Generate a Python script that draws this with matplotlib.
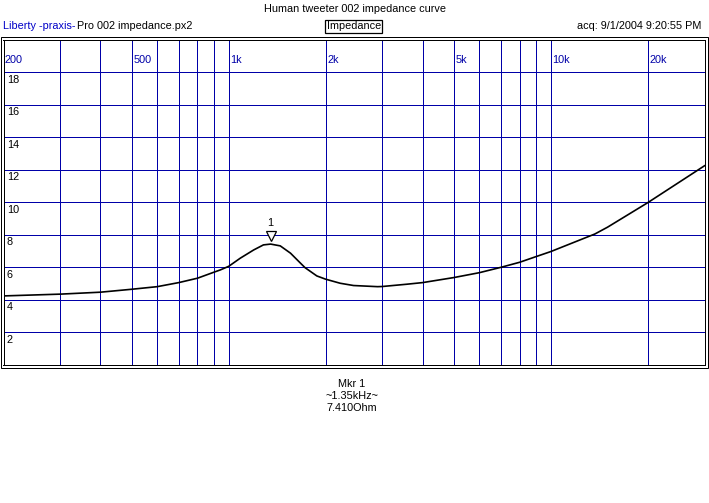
import matplotlib
matplotlib.use('Agg')
import matplotlib.pyplot as plt
from matplotlib.patches import Rectangle
from matplotlib.ticker import NullLocator
import matplotlib.transforms as mtransforms

W, H, DPI = 709, 503, 100

# ---- data ----
freq_hz = [200, 300, 400, 500, 600, 700, 800, 900, 942, 1000, 1086, 1196, 1282,
           1350, 1446, 1556, 1672, 1726, 1878, 2000, 2219, 2442, 2900, 3000,
           3572, 4000, 5000, 6000, 7000, 8000, 9000, 10000, 13700, 15000,
           20000, 30000]
impedance_ohm = [4.22, 4.33, 4.45, 4.63, 4.79, 5.04, 5.31, 5.68, 5.82, 6.04,
                 6.54, 7.05, 7.36, 7.41, 7.30, 6.85, 6.23, 5.96, 5.45, 5.25,
                 5.00, 4.86, 4.79, 4.80, 4.94, 5.04, 5.35, 5.65, 5.98, 6.29,
                 6.64, 6.95, 8.03, 8.45, 9.96, 12.23]

x_grid_hz = [300, 400, 500, 600, 700, 800, 900, 1000, 2000, 3000, 4000, 5000,
             6000, 7000, 8000, 9000, 10000, 20000]
x_label_hz = [200, 500, 1000, 2000, 5000, 10000, 20000]
x_label_text = ['200', '500', '1k', '2k', '5k', '10k', '20k']
y_grid = [2, 4, 6, 8, 10, 12, 14, 16, 18]
y_label_text = ['2', '4', '6', '8', '10', '12', '14', '16', '18']

marker_freq_hz = 1350
marker_ohm = 7.41

title = 'Human tweeter 002 impedance curve'
brand = 'Liberty -praxis-'
file_name = 'Pro 002 impedance.px2'
mode_name = 'Impedance'
acq_text = 'acq: 9/1/2004 9:20:55 PM'
marker_lines = ['Mkr 1', '~1.35kHz~', '7.410Ohm']

# ---- styling ----
plt.rcParams['font.family'] = ['Liberation Sans', 'DejaVu Sans']
FS = 7.8
GRID = '#0000A8'
BLUE = '#0000C8'
PX = 72.0 / DPI  # one pixel in points

fig = plt.figure(figsize=(W / DPI, H / DPI), dpi=DPI)
fig.patch.set_facecolor('white')


def fx(x):
    return x / W


def fy(y):
    return 1 - y / H


left, top, right, bottom = 3.5, 39.5, 704.5, 364.5
ax = fig.add_axes([fx(left), fy(bottom), (right - left) / W, (bottom - top) / H])
ax.set_xscale('log')
ax.set_xlim(200, 30000)
ax.set_ylim(0, 20)
for axis in (ax.xaxis, ax.yaxis):
    axis.set_major_locator(NullLocator())
    axis.set_minor_locator(NullLocator())

for f in x_grid_hz:
    ax.axvline(f, color=GRID, lw=PX, zorder=1)
for v in y_grid:
    ax.axhline(v, color=GRID, lw=PX, zorder=1)

ax.plot(freq_hz, impedance_ohm, color='black', lw=1.2, zorder=3)

for sp in ax.spines.values():
    sp.set_linewidth(PX)
    sp.set_color('black')

# outer frame
fig.patches.append(Rectangle((fx(0.5), fy(367.5)), (707.5 - 0.5) / W,
                             (367.5 - 36.5) / H, transform=fig.transFigure,
                             fill=False, edgecolor='black', lw=PX))

# x labels (inside the plot, near the top)
for f, t in zip(x_label_hz, x_label_text):
    ax.annotate(t, xy=(f, 1), xycoords=('data', 'axes fraction'),
                xytext=(1.5, -(63.3 - top)), textcoords='offset pixels',
                ha='left', va='baseline', fontsize=FS, color=GRID)

# y labels (below their gridline)
for v, t in zip(y_grid, y_label_text):
    ax.annotate(t, xy=(0, v), xycoords=('axes fraction', 'data'),
                xytext=(3.2, -10.9), textcoords='offset pixels',
                ha='left', va='baseline', fontsize=FS, color='black')

# marker
off = mtransforms.offset_copy(ax.transData, fig=fig, x=0, y=8.5, units='dots')
ax.plot([marker_freq_hz], [marker_ohm], marker='v', ms=7, mfc='white',
        mec='black', mew=0.9, transform=off, zorder=4, clip_on=False)
ax.annotate('1', xy=(marker_freq_hz, marker_ohm), xycoords='data',
            xytext=(0, 17.7), textcoords='offset pixels', ha='center',
            va='baseline', fontsize=FS, color='black')

# header texts
fig.text(fx(354.5), fy(12), title, ha='center', va='baseline', fontsize=FS)
fig.text(fx(3), fy(29), brand, ha='left', va='baseline', fontsize=FS, color=BLUE)
fig.text(fx(77), fy(29), file_name, ha='left', va='baseline', fontsize=FS)
fig.text(fx(353.7), fy(29.3), mode_name, ha='center', va='baseline', fontsize=FS,
         bbox=dict(boxstyle='square,pad=0.15', fc='white', ec='black', lw=0.9))
fig.text(fx(701), fy(29), acq_text, ha='right', va='baseline', fontsize=FS)

# marker readout
for i, t in enumerate(marker_lines):
    fig.text(fx(351.5), fy(386.7 + i * 12.2), t, ha='center', va='baseline',
             fontsize=FS)

fig.savefig('out.png', dpi=DPI)
